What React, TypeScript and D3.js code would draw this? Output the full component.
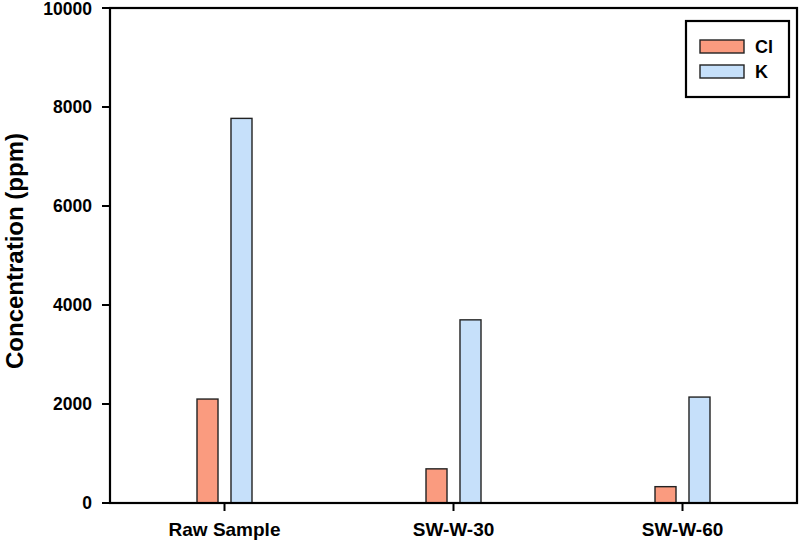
import React from "react";
import * as d3 from "d3";

const categories = ["Raw Sample", "SW-W-30", "SW-W-60"];
const seriesNames = ["Cl", "K"];
const clValues = [2100, 690, 330];
const kValues = [7770, 3700, 2140];
const yTicks = [0, 2000, 4000, 6000, 8000, 10000];
const colors = ["#FA9B7F", "#C6E0FA"];

export default function App() {
  const W = 800, H = 543;
  const left = 110, right = 797, top = 8, bottom = 503;
  const x = d3.scaleBand<string>().domain(categories).range([left, right]).paddingInner(0).paddingOuter(0);
  const y = d3.scaleLinear().domain([0, 10000]).range([bottom, top]);
  const inner = d3.scaleBand<string>().domain(seriesNames).range([-27.5, 27.5]).paddingInner(0.382).paddingOuter(0);
  const series = [clValues, kValues];
  const font = "'Liberation Sans', Arial, sans-serif";

  return (
    <svg width={W} height={H} style={{ position: "absolute", left: 0, top: 0, background: "#fff" }} fontFamily={font}>
      {series.map((vals, si) =>
        categories.map((c, ci) => {
          const cx = (x(c) as number) + x.bandwidth() / 2;
          const bx = cx + (inner(seriesNames[si]) as number);
          return (
            <rect
              key={`${si}-${ci}`}
              x={bx}
              y={y(vals[ci])}
              width={inner.bandwidth()}
              height={bottom - y(vals[ci])}
              fill={colors[si]}
              stroke="#222"
              strokeWidth={1.4}
            />
          );
        })
      )}
      <rect x={left} y={top} width={right - left} height={bottom - top} fill="none" stroke="#000" strokeWidth={2.2} />
      {yTicks.map((t) => (
        <g key={t}>
          <line x1={left - 8} x2={left} y1={y(t)} y2={y(t)} stroke="#000" strokeWidth={2} />
          <text x={92} y={y(t) + (t === 10000 ? 1 : 0)} dy="0.35em" textAnchor="end" fontSize={17.5} fontWeight="bold">
            {t}
          </text>
        </g>
      ))}
      {categories.map((c) => {
        const cx = (x(c) as number) + x.bandwidth() / 2;
        return (
          <g key={c}>
            <line x1={cx} x2={cx} y1={bottom} y2={bottom + 8} stroke="#000" strokeWidth={2} />
            <text x={cx} y={536} textAnchor="middle" fontSize={19} fontWeight="bold">
              {c}
            </text>
          </g>
        );
      })}
      <text
        transform={`translate(15,251) rotate(-90)`}
        textAnchor="middle"
        dy="0.35em"
        fontSize={24}
        fontWeight="bold"
      >
        Concentration (ppm)
      </text>
      <rect x={686} y={21} width={103} height={76} fill="#fff" stroke="#000" strokeWidth={2.2} />
      {seriesNames.map((s, i) => (
        <g key={s}>
          <rect x={700} y={40 + i * 25} width={44} height={13} fill={colors[i]} stroke="#222" strokeWidth={1.4} />
          <text x={755} y={46.5 + i * 25} dy="0.35em" fontSize={18} fontWeight="bold">
            {s}
          </text>
        </g>
      ))}
    </svg>
  );
}
